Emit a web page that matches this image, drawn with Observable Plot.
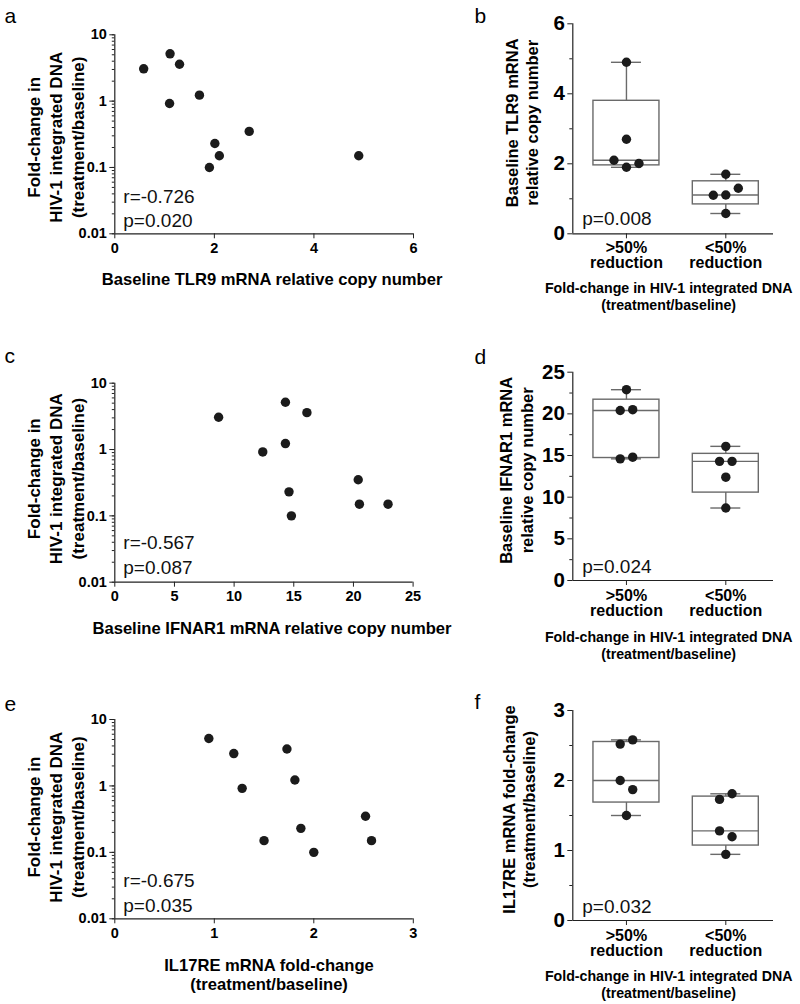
<!DOCTYPE html>
<html><head><meta charset="utf-8">
<script src="https://cdn.jsdelivr.net/npm/d3@7"></script>
<script src="https://cdn.jsdelivr.net/npm/@observablehq/plot@0.6"></script>
<style>
body{margin:0;background:#fff;}
#root{position:relative;width:800px;height:1004px;background:#fff;overflow:hidden;}
#root svg{position:absolute;overflow:visible;}
</style></head><body><div id="root"></div>
<script>
// ---------- data ----------
// one entry per patient, same order in every array
const foldChange = [3.07, 5.17, 3.6, 0.92, 1.23, 0.35, 0.23, 0.15, 0.10, 0.15];
const tlr9      = [0.58, 1.11, 1.30, 1.10, 1.70, 2.70, 2.01, 2.10, 1.90, 4.90];
const ifnar1    = [8.7, 14.3, 16.1, 12.4, 14.3, 20.4, 14.6, 20.5, 14.8, 22.9];
const il17re    = [1.196, 0.945, 1.73, 1.28, 1.81, 2.52, 1.87, 1.50, 2.0, 2.58];

// box panels, values per group
const groups = [">50%\nreduction", "<50%\nreduction"];
const tlr9Reduced = [4.90, 2.70, 2.10, 1.90, 2.01];
const tlr9NotReduced = [1.70, 1.10, 1.11, 1.30, 0.58];
const ifnarReduced = [22.9, 20.4, 20.5, 14.6, 14.8];
const ifnarNotReduced = [16.1, 14.3, 14.3, 12.4, 8.7];
const il17Reduced = [2.52, 2.58, 2.0, 1.87, 1.5];
const il17NotReduced = [1.73, 1.81, 1.28, 1.196, 0.945];

// texts
const panelLetters = ["a", "b", "c", "d", "e", "f"];
const scatterStats = [["r=-0.726", "p=0.020"], ["r=-0.567", "p=0.087"], ["r=-0.675", "p=0.035"]];
const boxStats = ["p=0.008", "p=0.024", "p=0.032"];
const scatterYTitle = "Fold-change in\nHIV-1 integrated DNA\n(treatment/baseline)";
const scatterXTitles = ["Baseline TLR9 mRNA relative copy number", "Baseline IFNAR1 mRNA relative copy number", "IL17RE mRNA fold-change\n(treatment/baseline)"];
const boxYTitles = ["Baseline TLR9 mRNA\nrelative copy number", "Baseline IFNAR1 mRNA\nrelative copy number", "IL17RE mRNA fold-change\n(treatment/baseline)"];
const boxXTitle = "Fold-change in HIV-1 integrated DNA\n(treatment/baseline)";

// ticks
const logTicks = [0.01, 0.1, 1, 10];
const logTickLabels = ["0.01", "0.1", "1", "10"];
const scatterXTicks = [[0, 2, 4, 6], [0, 5, 10, 15, 20, 25], [0, 1, 2, 3]];
const boxYTicks = [[0, 2, 4, 6], [0, 5, 10, 15, 20, 25], [0, 1, 2, 3]];
const boxYMinor = [[1, 3, 5], [2.5, 7.5, 12.5, 17.5, 22.5], [0.5, 1.5, 2.5]];

// ---------- styling ----------
const FONT = '"Liberation Sans", Arial, Helvetica, sans-serif';
const AX = "#222";
const BOX = "#6a6a6a";
const DOT = "#1b1b1b";

function prismQuantile(vals, p) {
  const s = [...vals].sort((a, b) => a - b), n = s.length;
  let pos = p * (n + 1);
  pos = Math.max(1, Math.min(n, pos));
  const lo = Math.floor(pos), hi = Math.ceil(pos);
  return s[lo - 1] + (pos - lo) * (s[hi - 1] - s[lo - 1]);
}
function swarm(values, pxPerUnit, thresh, step) {
  const n = values.length, parent = d3.range(n);
  const find = i => parent[i] === i ? i : (parent[i] = find(parent[i]));
  for (let i = 0; i < n; i++) for (let j = i + 1; j < n; j++)
    if (Math.abs(values[i] - values[j]) * pxPerUnit < thresh) parent[find(j)] = find(i);
  const clusters = d3.group(d3.range(n), i => find(i));
  const off = new Array(n);
  for (const m of clusters.values()) m.forEach((idx, k) => off[idx] = (k - (m.length - 1) / 2) * step);
  return off;
}

const root = document.getElementById("root");

function scatterPanel(k, cfg) {
  const xs = [tlr9, ifnar1, il17re][k];
  const data = xs.map((x, i) => ({x, y: foldChange[i]}));
  const minor = d3.scaleLog().domain([0.01, 10]).ticks();
  const xd = [scatterXTicks[k][0], scatterXTicks[k][scatterXTicks[k].length - 1]];
  const svg = Plot.plot({
    width: cfg.W, height: cfg.H,
    marginLeft: cfg.mL, marginRight: cfg.W - cfg.right, marginTop: cfg.mT, marginBottom: cfg.mB,
    style: {fontFamily: FONT, fontSize: "14px", fontWeight: "bold", color: "#000", background: "transparent", overflow: "visible"},
    x: {domain: xd},
    y: {type: "log", domain: [0.01, 10]},
    marks: [
      Plot.axisY(minor, {tickSize: 2.5, tickFormat: () => "", stroke: AX, label: null}),
      Plot.axisY(logTicks, {tickSize: 5, tickPadding: 3, tickFormat: d => logTickLabels[logTicks.indexOf(d)], stroke: AX, fill: "#000", fontSize: 14.5, label: null}),
      Plot.axisX(scatterXTicks[k], {tickSize: 5, tickPadding: 4, tickFormat: d => String(d), stroke: AX, fill: "#000", fontSize: 14.5, label: null}),
      Plot.ruleX([xd[0]], {stroke: AX, strokeWidth: 1.2}),
      Plot.ruleY([0.01], {stroke: AX, strokeWidth: 1.2}),
      Plot.dot(data, {x: "x", y: "y", r: 4.7, fill: DOT}),
      Plot.text([scatterStats[k].join("\n")], {frameAnchor: "bottom-left", textAnchor: "start", dx: 8.5, dy: cfg.statDy, fontSize: 19, fontWeight: "normal", lineHeight: 1.3, lineAnchor: "middle", fill: "#111"}),
      Plot.text([scatterXTitles[k]], {frameAnchor: "bottom", textAnchor: "middle", dx: cfg.xtDx, dy: cfg.xtDy, fontSize: 16.6, lineHeight: 1.15, lineAnchor: "middle"}),
      Plot.text([scatterYTitle], {frameAnchor: "left", textAnchor: "middle", rotate: -90, dx: -59.5, dy: cfg.ytDy, fontSize: 17, lineHeight: 1.3, lineAnchor: "middle"}),
      Plot.text([panelLetters[cfg.letter]], {frameAnchor: "top-left", textAnchor: "start", dx: 4 - cfg.mL, dy: cfg.labelY - cfg.top - cfg.mT, fontSize: 21, fontWeight: "normal", lineAnchor: "middle"})
    ]
  });
  svg.style.left = "0px"; svg.style.top = cfg.top + "px";
  root.appendChild(svg);
}

function boxPanel(k, cfg) {
  const vals = [[tlr9Reduced, tlr9NotReduced], [ifnarReduced, ifnarNotReduced], [il17Reduced, il17NotReduced]][k];
  const yd = [boxYTicks[k][0], boxYTicks[k][boxYTicks[k].length - 1]];
  const xd = cfg.xDomain;
  const pxX = (cfg.right - cfg.mL) / (xd[1] - xd[0]);
  const pxY = (cfg.H - cfg.mT - cfg.mB) / (yd[1] - yd[0]);
  const bw = 33 / pxX, cw = 15 / pxX;
  const stats = vals.map((v, g) => ({
    g, min: d3.min(v), max: d3.max(v),
    q1: prismQuantile(v, 0.25), med: prismQuantile(v, 0.5), q3: prismQuantile(v, 0.75)
  }));
  const dots = vals.flatMap((v, g) => {
    const off = swarm(v, pxY, 11, 12.5);
    return v.map((y, i) => ({x: g + off[i] / pxX, y}));
  });
  const svg = Plot.plot({
    width: cfg.W, height: cfg.H,
    marginLeft: cfg.mL, marginRight: cfg.W - cfg.right, marginTop: cfg.mT, marginBottom: cfg.mB,
    style: {fontFamily: FONT, fontSize: "14px", fontWeight: "bold", color: "#000", background: "transparent", overflow: "visible"},
    x: {domain: xd},
    y: {domain: yd},
    marks: [
      Plot.axisY(boxYMinor[k], {tickSize: 3, tickFormat: () => "", stroke: AX, label: null}),
      Plot.axisY(boxYTicks[k], {tickSize: 5, tickPadding: 3, tickFormat: d => String(d), stroke: AX, fill: "#000", fontSize: 20.5, label: null}),
      Plot.axisX([0, 1], {tickSize: 5, tickFormat: () => "", stroke: AX, label: null}),
      Plot.ruleX([xd[0]], {stroke: AX, strokeWidth: 1.2}),
      Plot.ruleY([yd[0]], {stroke: AX, strokeWidth: 1.2}),
      Plot.rect(stats, {x1: d => d.g - bw, x2: d => d.g + bw, y1: "q1", y2: "q3", fill: "none", stroke: BOX, strokeWidth: 1.4}),
      Plot.ruleY(stats, {x1: d => d.g - bw, x2: d => d.g + bw, y: "med", stroke: BOX, strokeWidth: 1.4}),
      Plot.ruleX(stats, {x: "g", y1: "q3", y2: "max", stroke: BOX, strokeWidth: 1.4}),
      Plot.ruleX(stats, {x: "g", y1: "min", y2: "q1", stroke: BOX, strokeWidth: 1.4}),
      Plot.ruleY(stats, {x1: d => d.g - cw, x2: d => d.g + cw, y: "max", stroke: BOX, strokeWidth: 1.4}),
      Plot.ruleY(stats, {x1: d => d.g - cw, x2: d => d.g + cw, y: "min", stroke: BOX, strokeWidth: 1.4}),
      Plot.dot(dots, {x: "x", y: "y", r: 4.7, fill: DOT}),
      Plot.text(groups, {x: (d, i) => i, frameAnchor: "bottom", textAnchor: "middle", dy: cfg.catDy, fontSize: 16, lineHeight: 0.95, lineAnchor: "middle"}),
      Plot.text([boxStats[k]], {frameAnchor: "bottom-left", textAnchor: "start", dx: 9.5, dy: cfg.statDy, fontSize: 19, fontWeight: "normal", lineAnchor: "middle", fill: "#111"}),
      Plot.text([boxXTitle], {frameAnchor: "bottom", textAnchor: "middle", dx: -4.5, dy: cfg.xtDy, fontSize: 14.2, lineHeight: 1.2, lineAnchor: "middle"}),
      Plot.text([boxYTitles[k]], {frameAnchor: "left", textAnchor: "middle", rotate: -90, dx: cfg.ytDx, dy: -6, fontSize: 16.5, lineHeight: 1.27, lineAnchor: "middle"}),
      Plot.text([panelLetters[cfg.letter]], {frameAnchor: "top-left", textAnchor: "start", dx: 474 - 430 - cfg.mL, dy: cfg.labelY - cfg.top - cfg.mT, fontSize: 21, fontWeight: "normal", lineAnchor: "middle"})
    ]
  });
  svg.style.left = "430px"; svg.style.top = cfg.top + "px";
  root.appendChild(svg);
}

scatterPanel(0, {W: 430, H: 330, top: 0, mL: 114.3, right: 413, mT: 34.3, mB: 330 - 233.3, statDy: -26.8, xtDx: 8, xtDy: 45, ytDy: 3, letter: 0, labelY: 15.3});
scatterPanel(1, {W: 430, H: 330, top: 330, mL: 114.3, right: 412.6, mT: 52.7, mB: 660 - 581.7, statDy: -28.4, xtDx: 8, xtDy: 46, ytDy: -4, letter: 2, labelY: 355.3});
scatterPanel(2, {W: 430, H: 344, top: 660, mL: 114.3, right: 412.8, mT: 59, mB: 1004 - 918.3, statDy: -27, xtDx: 5, xtDy: 56, ytDy: -2, letter: 4, labelY: 703.6});

boxPanel(0, {W: 370, H: 330, top: 0, mL: 142.3, right: 343, mT: 23.3, mB: 330 - 233.3, xDomain: [-0.54, 1.48], catDy: 21.9, statDy: -15, xtDy: 62.2, ytDx: -51.5, letter: 1, labelY: 15.3});
boxPanel(1, {W: 370, H: 330, top: 330, mL: 142.3, right: 343, mT: 41.7, mB: 80, xDomain: [-0.54, 1.48], catDy: 23.5, statDy: -13.3, xtDy: 65, ytDx: -56.8, letter: 3, labelY: 356.6});
boxPanel(2, {W: 370, H: 344, top: 660, mL: 142.3, right: 343, mT: 50, mB: 84, xDomain: [-0.54, 1.48], catDy: 23.4, statDy: -14, xtDy: 63.4, ytDx: -54.5, letter: 5, labelY: 701.6});
</script></body></html>
